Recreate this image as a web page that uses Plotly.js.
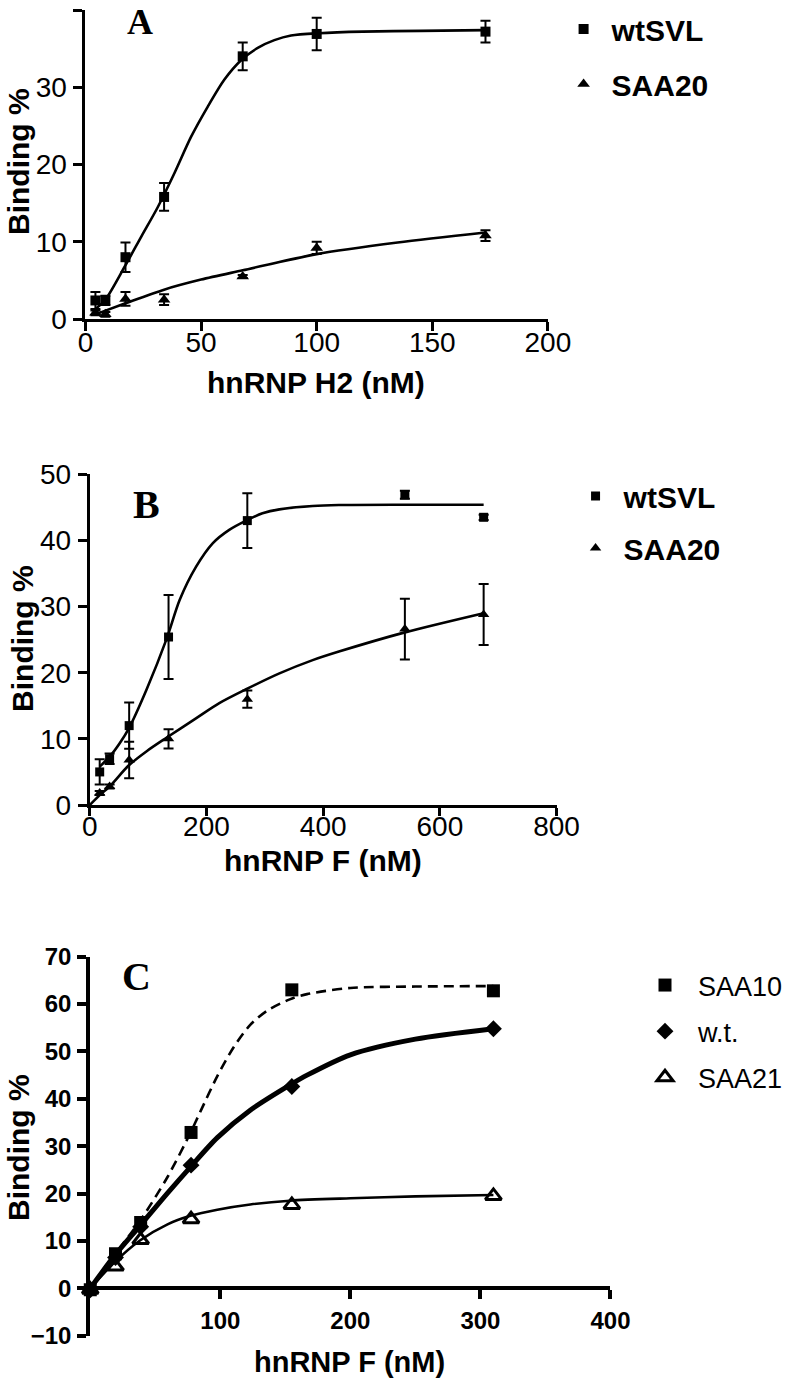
<!DOCTYPE html>
<html>
<head>
<meta charset="utf-8">
<script src="https://cdn.plot.ly/plotly-3.0.1.min.js"></script>
<style>html,body{margin:0;padding:0;background:#fff;}#chart{width:788px;height:1380px;}</style>
</head>
<body>
<div id="chart"></div>
<script>
// ---------- Panel A : hnRNP H2 ----------
const A_x = [4.3, 8.6, 17.3, 34, 68, 100, 173];
const A_wt = [2.4, 2.4, 8.0, 15.8, 34.0, 36.9, 37.2];
const A_wt_err = [1.1, 0.6, 1.9, 1.8, 1.8, 2.1, 1.4];
const A_saa = [0.8, 0.6, 2.6, 2.5, 5.5, 9.2, 10.8];
const A_saa_err = [0.3, 0.3, 0.9, 0.7, 0.2, 0.8, 0.7];
const A_fit_wt_x = [4.3, 8.6, 17, 24.2, 31.3, 38.5, 45.7, 52.9, 60.1, 67.3, 74.5, 81.7, 88.9, 101, 120, 145, 173];
const A_fit_wt_y = [1.3, 2.5, 6.8, 10.7, 14.5, 18.9, 23.6, 27.5, 31.0, 33.5, 35.1, 36.1, 36.7, 37.0, 37.2, 37.3, 37.4];
const A_fit_saa_x = [4.3, 17, 34, 50, 68, 100, 135, 173];
const A_fit_saa_y = [0.6, 2.0, 3.8, 5.1, 6.3, 8.4, 9.9, 11.2];

// ---------- Panel B : hnRNP F ----------
const B_x = [17, 34, 67.5, 135, 270, 540, 675];
const B_wt = [5.0, 7.0, 12.0, 25.4, 43.0, 46.9, 43.5];
const B_wt_err = [1.9, 0.8, 3.5, 6.35, 4.15, 0.6, 0.4];
const B_saa = [1.8, 2.8, 6.8, 10.0, 16.0, 26.6, 28.8];
const B_saa_err = [0.3, 0.3, 2.75, 1.45, 1.3, 4.6, 4.6];
const B_fit_wt_x = [17, 34, 51, 67, 97, 132, 154, 182, 211, 239, 268, 296, 325, 382, 427, 540, 675];
const B_fit_wt_y = [5.8, 7.3, 9.3, 11.6, 17.4, 25.2, 31.0, 36.0, 39.6, 41.6, 43.0, 44.1, 44.7, 45.2, 45.35, 45.4, 45.4];
const B_fit_saa_x = [0, 17, 34, 67, 97, 132, 182, 222, 268, 325, 382, 427, 540, 675];
const B_fit_saa_y = [0, 1.5, 2.8, 6.0, 8.1, 10.2, 13.1, 15.4, 17.5, 19.9, 21.9, 23.2, 26.1, 29.0];

// ---------- Panel C : hnRNP F ----------
const C_x = [0, 19.4, 38.75, 77.5, 155, 310];
const C_saa10 = [-0.3, 7.3, 13.9, 32.9, 63.0, 62.8];
const C_wt = [-0.3, 6.5, 13.0, 26.0, 42.6, 54.8];
const C_saa21 = [-0.3, 4.6, 10.2, 14.6, 17.6, 19.5];
const C_fit10_x = [0, 19, 38.2, 59.4, 77, 85, 97.7, 110.5, 123, 136, 153.4, 166.7, 200, 250, 310];
const C_fit10_y = [0, 7.2, 14.2, 23.5, 32.8, 37.5, 44.8, 51.0, 55.6, 58.6, 61.0, 62.1, 63.4, 63.7, 63.8];
const C_fitwt_x = [0, 19, 38.2, 59.4, 77, 97.7, 123, 153.4, 166.7, 200, 250, 310];
const C_fitwt_y = [0, 7.0, 13.2, 20.1, 25.6, 31.8, 37.6, 42.9, 45.0, 49.3, 52.6, 54.8];
const C_fit21_x = [0, 19, 38.2, 59.4, 77, 97.7, 123, 153.4, 200, 250, 310];
const C_fit21_y = [0, 5.6, 10.1, 13.5, 15.3, 16.6, 17.7, 18.5, 19.0, 19.4, 19.7];

const legendNames = ['wtSVL', 'SAA20', 'SAA10', 'w.t.', 'SAA21'];

const W = 788, H = 1380;
const px = v => v / W;
const py = v => 1 - v / H;
const K = '#000';
const SANS = 'Liberation Sans, Arial, sans-serif';
const NARROW = 'Liberation Sans Narrow, Arial Narrow, Liberation Sans, sans-serif';
const SERIF = 'Liberation Serif, Times New Roman, serif';

function fit(x, y, xa, ya, w, dash) {
  return {x: x, y: y, xaxis: xa, yaxis: ya, type: 'scatter', mode: 'lines',
    line: {color: K, width: w, shape: 'spline', smoothing: 0.8, dash: dash || 'solid'},
    showlegend: false, hoverinfo: 'skip', cliponaxis: false};
}
function pts(x, y, err, xa, ya, name, legend, group, sym, size, lw) {
  const t = {x: x, y: y, xaxis: xa, yaxis: ya, type: 'scatter', mode: 'markers', name: name,
    legend: legend, legendgroup: group, cliponaxis: false,
    marker: {symbol: sym, size: size, color: K, line: {color: K, width: lw || 0}}};
  if (err) t.error_y = {type: 'data', array: err, visible: true, color: K, thickness: 2, width: 5};
  return t;
}

const data = [
  fit(A_fit_wt_x, A_fit_wt_y, 'x', 'y', 2.6),
  fit(A_fit_saa_x, A_fit_saa_y, 'x', 'y', 2.6),
  pts(A_x, A_wt, A_wt_err, 'x', 'y', legendNames[0], 'legend', 'a1', 'square', 10),
  pts(A_x, A_saa, A_saa_err, 'x', 'y', legendNames[1], 'legend', 'a2', 'triangle-up', 11),

  fit(B_fit_wt_x, B_fit_wt_y, 'x2', 'y2', 2.6),
  fit(B_fit_saa_x, B_fit_saa_y, 'x2', 'y2', 2.6),
  pts(B_x, B_wt, B_wt_err, 'x2', 'y2', legendNames[0], 'legend2', 'b1', 'square', 9),
  pts(B_x, B_saa, B_saa_err, 'x2', 'y2', legendNames[1], 'legend2', 'b2', 'triangle-up', 10),

  fit(C_fit10_x, C_fit10_y, 'x3', 'y3', 2.6, '10px,6px'),
  fit(C_fitwt_x, C_fitwt_y, 'x3', 'y3', 5),
  fit(C_fit21_x, C_fit21_y, 'x3', 'y3', 2.6),
  pts(C_x, C_saa10, null, 'x3', 'y3', legendNames[2], 'legend3', 'c1', 'square', 13),
  pts(C_x, C_wt, null, 'x3', 'y3', legendNames[3], 'legend3', 'c2', 'diamond', 13),
  pts(C_x, C_saa21, null, 'x3', 'y3', legendNames[4], 'legend3', 'c3', 'triangle-up-open', 14, 3)
];

const tickFont = {family: SANS, size: 28, color: K};
const tickFontC = {family: NARROW, size: 24, color: K, weight: 'bold'};
function ax(extra, font, lw) {
  return Object.assign({showline: true, linecolor: K, linewidth: lw, ticks: 'outside', ticklen: 9,
    tickwidth: lw, tickcolor: K, showgrid: false, zeroline: false, tickfont: font,
    ticklabelstandoff: 1, fixedrange: true}, extra);
}

const legBase = (x, y, size, weight, gap, iw) => ({
  x: x, y: y, xanchor: 'left', yanchor: 'top', bgcolor: 'rgba(0,0,0,0)', borderwidth: 0,
  font: {family: SANS, size: size, color: K, weight: weight}, traceorder: 'grouped',
  tracegroupgap: gap, itemwidth: iw, itemclick: false, itemdoubleclick: false
});

const ann = (text, x, y, size, family, weight, angle) => ({
  text: text, xref: 'paper', yref: 'paper', x: px(x), y: py(y), xanchor: 'center', yanchor: 'middle',
  showarrow: false, textangle: angle || 0, font: {family: family, size: size, color: K, weight: weight}
});

const layout = {
  width: W, height: H, margin: {l: 0, r: 0, t: 0, b: 0},
  paper_bgcolor: '#fff', plot_bgcolor: 'rgba(0,0,0,0)',
  xaxis: ax({domain: [px(85.7), px(549.3)], range: [0, 200], tickvals: [0, 50, 100, 150, 200], anchor: 'y',
    ticklabelstandoff: -13}, tickFont, 3),
  yaxis: ax({domain: [py(319), py(10)], range: [0, 40], tickvals: [0, 10, 20, 30, 40], anchor: 'x'}, tickFont, 3),
  xaxis2: ax({domain: [px(90), px(558)], range: [0, 800], tickvals: [0, 200, 400, 600, 800], anchor: 'y2',
    ticklen: 8, ticklabelstandoff: -14}, tickFont, 3),
  yaxis2: ax({domain: [py(805), py(474.3)], range: [0, 50], tickvals: [0, 10, 20, 30, 40, 50], anchor: 'x2'}, tickFont, 3),
  xaxis3: ax({domain: [px(90.5), px(612)], range: [0, 400], tickvals: [100, 200, 300, 400], anchor: 'free',
    position: py(1288)}, tickFontC, 4),
  yaxis3: ax({domain: [py(1335.7), py(956.7)], range: [-10, 70], tickvals: [-10, 0, 10, 20, 30, 40, 50, 60, 70], anchor: 'x3'}, tickFontC, 4),
  legend: legBase(px(557), py(3), 30, 'bold', 13, 46),
  legend2: legBase(px(569), py(470), 30, 'bold', 10, 46),
  legend3: legBase(px(634), py(961), 27, 'normal', 8, 56),
  annotations: [
    ann('A', 140, 22, 36, SERIF, 'bold'),
    ann('B', 147, 504, 40, SERIF, 'bold'),
    ann('C', 137, 977, 40, SERIF, 'bold'),
    ann('hnRNP H2 (nM)', 317, 382, 30, SANS, 'bold'),
    ann('hnRNP F (nM)', 324, 860, 30, SANS, 'bold'),
    ann('hnRNP F (nM)', 350, 1362, 29, SANS, 'bold'),
    ann('Binding %', 18, 161, 30, SANS, 'bold', -90),
    ann('Binding %', 23, 638, 30, SANS, 'bold', -90),
    ann('Binding %', 18, 1147, 30, SANS, 'bold', -90)
  ]
};

Plotly.newPlot('chart', data, layout, {displayModeBar: false, staticPlot: true});
</script>
</body>
</html>
